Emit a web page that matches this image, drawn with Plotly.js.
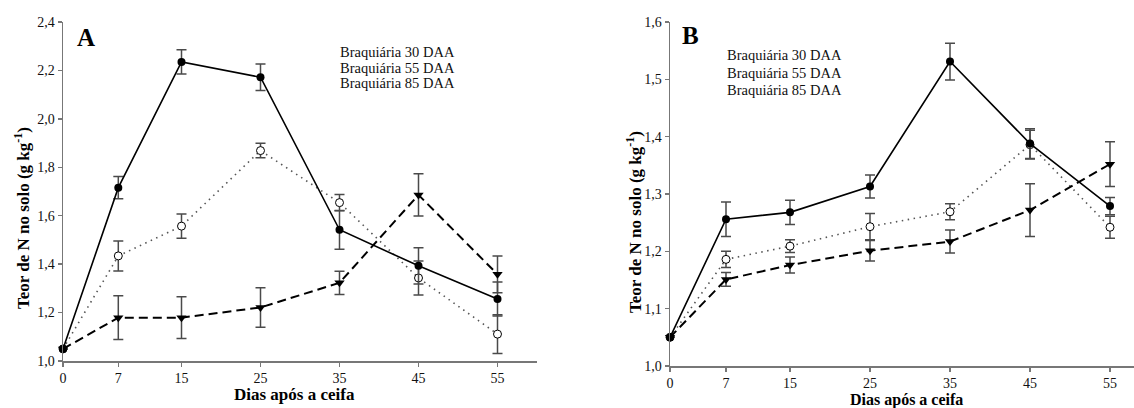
<!DOCTYPE html>
<html>
<head>
<meta charset="utf-8">
<script src="https://cdn.plot.ly/plotly-3.0.1.min.js"></script>
<style>html,body{margin:0;padding:0;background:#fff;}#chart{width:1134px;height:408px;}</style>
</head>
<body>
<div id="chart"></div>
<script>
// ---- data ----
const days = [0, 7, 15, 25, 35, 45, 55];
const seriesNames = ["Braquiária 30 DAA", "Braquiária 55 DAA", "Braquiária 85 DAA"];

// Panel A
const a30 = [1.05, 1.716, 2.235, 2.172, 1.542, 1.393, 1.256];
const a30err = [0, 0.046, 0.05, 0.055, 0.08, 0.075, 0.07];
const a55 = [1.05, 1.434, 1.557, 1.869, 1.654, 1.343, 1.111];
const a55err = [0, 0.062, 0.05, 0.03, 0.034, 0.07, 0.08];
const a85 = [1.05, 1.179, 1.179, 1.221, 1.323, 1.686, 1.358];
const a85err = [0, 0.09, 0.086, 0.082, 0.048, 0.087, 0.076];

// Panel B
const b30 = [1.05, 1.256, 1.268, 1.313, 1.531, 1.388, 1.279];
const b30err = [0, 0.03, 0.021, 0.02, 0.032, 0.026, 0.015];
const b55 = [1.05, 1.186, 1.209, 1.243, 1.269, 1.386, 1.242];
const b55err = [0, 0.014, 0.011, 0.023, 0.014, 0.025, 0.019];
const b85 = [1.05, 1.151, 1.176, 1.201, 1.217, 1.272, 1.352];
const b85err = [0, 0.012, 0.014, 0.018, 0.02, 0.046, 0.039];

const panelLabels = ["A", "B"];
const xTitle = "Dias após a ceifa";
const yTitle = "Teor de N no solo (g kg<sup>-1</sup>)";

// ---- styling ----
const W = 1134, H = 408;
const px = x => x / W;
const py = y => 1 - y / H;
const FONT = "Liberation Serif, Times New Roman, serif";
const AXC = "#777";
const ERRC = "#4a4a4a";

function err(arr) {
  return {type: "data", array: arr, visible: true, color: ERRC, thickness: 1.5, width: 5};
}
function mk(xa, ya, y, e, kind) {
  const t = {x: days, y: y, xaxis: xa, yaxis: ya, type: "scatter", mode: "lines+markers",
    error_y: err(e), cliponaxis: false, hoverinfo: "x+y"};
  if (kind === 0) {
    t.line = {color: "black", width: 1.6, dash: "solid"};
    t.marker = {symbol: "circle", size: 8, color: "black"};
  } else if (kind === 1) {
    t.line = {color: "#555", width: 1.6, dash: "1.5px,4.5px"};
    t.marker = {symbol: "circle", size: 8, color: "white", line: {color: "black", width: 1}};
  } else {
    t.line = {color: "black", width: 2, dash: "9px,5px"};
    t.marker = {symbol: "triangle-down", size: 9, color: "black"};
  }
  return t;
}

const traces = [
  mk("x", "y", a55, a55err, 1),
  mk("x", "y", a85, a85err, 2),
  mk("x", "y", a30, a30err, 0),
  mk("x2", "y2", b55, b55err, 1),
  mk("x2", "y2", b85, b85err, 2),
  mk("x2", "y2", b30, b30err, 0)
];

function xaxis(domain, range, anchor) {
  return {domain: domain, range: range, anchor: anchor, tickmode: "array", tickvals: days,
    ticktext: days.map(String), showline: true, linecolor: AXC, linewidth: 1.5, ticks: "outside",
    ticklen: 4, tickwidth: 1.5, tickcolor: AXC, showgrid: false, zeroline: false,
    tickfont: {family: FONT, size: 14, color: "#111"}, fixedrange: true};
}
function yaxis(domain, range, dtick, anchor) {
  return {domain: domain, range: range, anchor: anchor, dtick: dtick, tick0: 1.0, tickformat: ".1f",
    showline: true, linecolor: AXC, linewidth: 1.5, ticks: "outside", ticklen: 4, tickwidth: 1.5,
    tickcolor: AXC, showgrid: false, zeroline: false,
    tickfont: {family: FONT, size: 14, color: "#111"}, fixedrange: true};
}

const annotations = [];
function ann(x, y, text, opts) {
  annotations.push(Object.assign({xref: "paper", yref: "paper", x: px(x), y: py(y), text: text,
    showarrow: false, xanchor: "center", yanchor: "middle",
    font: {family: FONT, size: 14.5, color: "#111"}}, opts || {}));
}
// legend texts
[52.5, 68, 83.5].forEach((yy, i) => ann(338, yy, seriesNames[i], {xanchor: "left"}));
[55, 72.5, 90].forEach((yy, i) => ann(725, yy, seriesNames[i], {xanchor: "left"}));
// panel letters
ann(75, 37, "<b>" + panelLabels[0] + "</b>", {xanchor: "left", font: {family: FONT, size: 25, color: "#000"}});
ann(680, 35, "<b>" + panelLabels[1] + "</b>", {xanchor: "left", font: {family: FONT, size: 25, color: "#000"}});
// axis titles
ann(294, 394, "<b>" + xTitle + "</b>", {font: {family: FONT, size: 17, color: "#000"}});
ann(906, 400, "<b>" + xTitle + "</b>", {font: {family: FONT, size: 16, color: "#000"}});
ann(22, 218, "<b>" + yTitle + "</b>", {textangle: -90, font: {family: FONT, size: 17, color: "#000"}});
ann(634, 222, "<b>" + yTitle + "</b>", {textangle: -90, font: {family: FONT, size: 17, color: "#000"}});

const layout = {
  width: W, height: H, margin: {l: 0, r: 0, t: 0, b: 0, pad: 0},
  paper_bgcolor: "white", plot_bgcolor: "white", showlegend: false, separators: ",.",
  xaxis: xaxis([px(63), px(537)], [0, 60], "y"),
  yaxis: yaxis([py(361), py(22)], [1.0, 2.4], 0.2, "x"),
  xaxis2: xaxis([px(670), 1], [0, 58], "y2"),
  yaxis2: yaxis([py(366), py(22)], [1.0, 1.6], 0.1, "x2"),
  annotations: annotations
};

Plotly.newPlot("chart", traces, layout, {displayModeBar: false, staticPlot: true});
</script>
</body>
</html>
